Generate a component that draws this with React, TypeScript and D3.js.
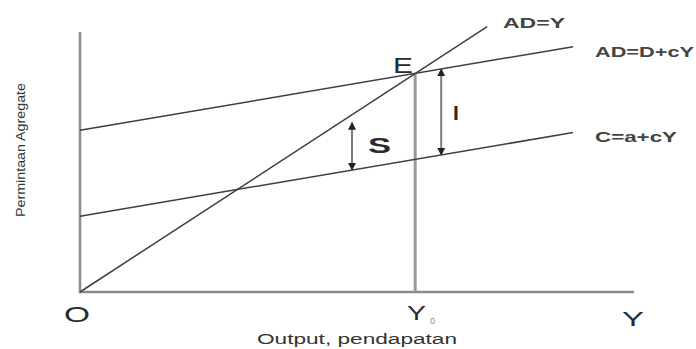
import React from 'react';
import * as d3 from 'd3';

// model: AD = Y, AD = D + cY, C = a + cY
const slopeC = 0.26;
const interceptD = 44.8;
const interceptA = 21;
const xMaxAxis = 100;
const yMaxAxis = 72;
const xEnd45 = 73.5;
const xEndLines = 89;
const xY0 = 60.5;
const xArrowI = 65.2;
const xArrowS = 49.1;
const sGap = 2.2;

const lineLabels = ['AD=Y', 'AD=D+cY', 'C=a+cY'];

const W = 696;
const H = 349;

const App = () => {
  const x = d3.scaleLinear().domain([0, xMaxAxis]).range([80, 634]);
  const y = d3.scaleLinear().domain([0, yMaxAxis]).range([292, 32]);
  const line = d3
    .line<[number, number]>()
    .x((d) => x(d[0]))
    .y((d) => y(d[1]));

  const fD = (v: number) => interceptD + slopeC * v;
  const fC = (v: number) => interceptA + slopeC * v;

  const lines: [number, number][][] = [
    [[0, 0], [xEnd45, xEnd45]],
    [[0, fD(0)], [xEndLines, fD(xEndLines)]],
    [[0, fC(0)], [xEndLines, fC(xEndLines)]],
  ];
  const labelPos = [
    { x: 503, y: 28, len: 62 },
    { x: 595, y: 57, len: 99 },
    { x: 595, y: 142, len: 82 },
  ];

  const arrows = [
    { xv: xArrowI, y1: fD(xArrowI), y2: fC(xArrowI) },
    { xv: xArrowS, y1: xArrowS - sGap, y2: fC(xArrowS) },
  ];

  const font = 'Liberation Sans, Arial, sans-serif';
  const ink = '#2a2a2a';

  return (
    <svg width={W} height={H} style={{ position: 'absolute', left: 0, top: 0 }}>
      <defs>
        <marker id="head" viewBox="0 0 10 10" refX="9" refY="5" markerWidth="4" markerHeight="4" orient="auto-start-reverse">
          <path d="M0,0 L10,5 L0,10 z" fill="#222" />
        </marker>
      </defs>
      <rect width={W} height={H} fill="#fff" />
      {/* axes */}
      <path
        d={`M${x(0)},${y(yMaxAxis)} V${y(0)} H${x(xMaxAxis)}`}
        fill="none"
        stroke="#8a8a8a"
        strokeWidth={2.5}
      />
      {/* Y0 vertical */}
      <line x1={x(xY0)} x2={x(xY0)} y1={y(0)} y2={y(xY0)} stroke="#999" strokeWidth={3} />
      {lines.map((l, i) => (
        <path key={i} d={line(l) ?? ''} fill="none" stroke="#3f3f3f" strokeWidth={1.5} />
      ))}
      {arrows.map((a, i) => (
        <line
          key={i}
          x1={x(a.xv)}
          x2={x(a.xv)}
          y1={y(a.y1)}
          y2={y(a.y2)}
          stroke="#7a7a7a"
          strokeWidth={2}
          markerStart="url(#head)"
          markerEnd="url(#head)"
        />
      ))}
      <g fontFamily={font} fill={ink}>
        {lineLabels.map((t, i) => (
          <text
            key={t}
            x={labelPos[i].x}
            y={labelPos[i].y}
            fontSize={14}
            fontWeight="bold"
            textLength={labelPos[i].len}
            lengthAdjust="spacingAndGlyphs"
            fill="#444"
          >
            {t}
          </text>
        ))}
        <text x={393} y={73} fontSize={22} textLength={20} lengthAdjust="spacingAndGlyphs">E</text>
        <text x={368} y={153} fontSize={22} fontWeight="bold" textLength={23} lengthAdjust="spacingAndGlyphs">S</text>
        <text x={453} y={120} fontSize={21} fontWeight="bold">I</text>
        <text x={64} y={322} fontSize={22} textLength={26} lengthAdjust="spacingAndGlyphs">O</text>
        <text x={407} y={320} fontSize={21} textLength={19} lengthAdjust="spacingAndGlyphs">Y</text>
        <text x={430} y={324} fontSize={9} fill="#888">0</text>
        <text x={622} y={326} fontSize={21} textLength={22} lengthAdjust="spacingAndGlyphs">Y</text>
        <text
          x={357}
          y={344}
          fontSize={14}
          textAnchor="middle"
          textLength={200}
          lengthAdjust="spacingAndGlyphs"
          fill="#333"
        >
          Output, pendapatan
        </text>
        <text
          transform="translate(25,150) rotate(-90)"
          fontSize={12}
          textAnchor="middle"
          textLength={134}
          lengthAdjust="spacingAndGlyphs"
          fill="#333"
        >
          Permintaan Agregate
        </text>
      </g>
    </svg>
  );
};

export default App;
